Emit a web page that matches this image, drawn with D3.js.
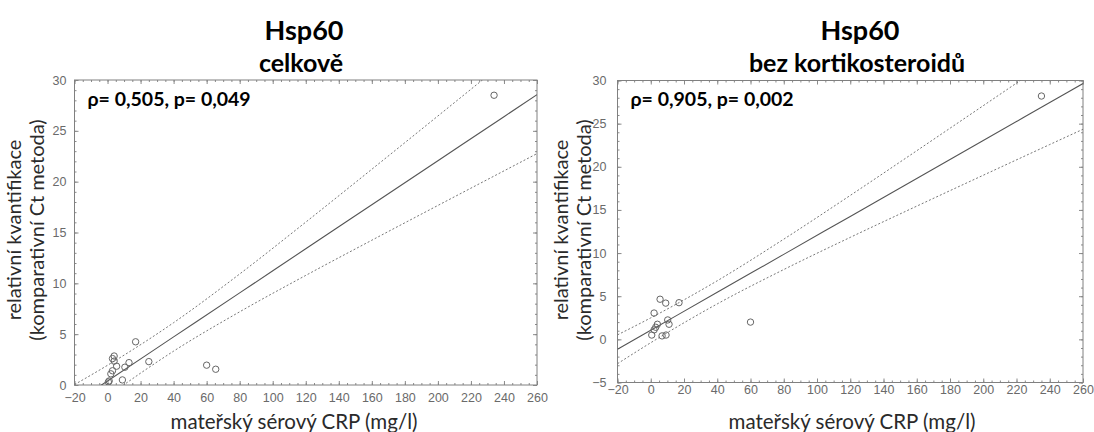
<!DOCTYPE html>
<html>
<head>
<meta charset="utf-8">
<script src="https://cdn.jsdelivr.net/npm/d3@7"></script>
<style>
    body { margin: 0; background: #fff; }
    svg text { font-family: Lato, "Open Sans", sans-serif; }
    .axis .tick text { font-family: "Liberation Sans", Arial, sans-serif; font-size: 12.5px; fill: #6a6a6a; }
    .axis .tick line { stroke: #8a8a8a; }
    .axis path.domain { display: none; }
</style>
</head>
<body>
<svg id="chart" width="1094" height="432"></svg>
<script>
// tick labels
const xTickValues = [-20, 0, 20, 40, 60, 80, 100, 120, 140, 160, 180, 200, 220, 240, 260];
const yTicksCelkove = [0, 5, 10, 15, 20, 25, 30];
const yTicksBez = [-5, 0, 5, 10, 15, 20, 25, 30];

// celkově: mateřský sérový CRP vs Hsp60
const celkoveCRP   = [234, 17, 4, 3, 4, 5.5, 3, 2, 10.5, 13, 25, 9, 1, 0.5, 60, 65.5];
const celkoveHsp60 = [28.5, 4.25, 2.85, 2.6, 2.35, 1.85, 1.4, 1.1, 1.75, 2.2, 2.3, 0.5, 0.4, 0.3, 1.95, 1.55];

// bez kortikosteroidů
const bezCRP   = [235, 60, 17, 10.2, 11, 9, 5.6, 4, 3, 2, 2, 0.6, 6.8, 9.2];
const bezHsp60 = [28.2, 2.0, 4.25, 2.25, 1.75, 4.2, 4.65, 1.75, 1.4, 3.05, 1.1, 0.5, 0.4, 0.5];

// regression line and confidence band, read at these CRP values
const fitCRP = [-20, 0, 40, 80, 120, 160, 200, 240, 260];
const celkoveFit   = [-1.77, 0.40, 4.73, 9.06, 13.40, 17.73, 22.06, 26.39, 28.56];
const celkoveUpper = [0.04, 1.94, 6.13, 10.92, 16.02, 21.22, 26.46, 31.72, 34.36];
const celkoveLower = [-3.58, -1.14, 3.33, 7.20, 10.78, 14.24, 17.66, 21.06, 22.76];
const bezFit   = [-1.15, 1.05, 5.45, 9.85, 14.25, 18.65, 23.05, 27.45, 29.65];
const bezUpper = [0.52, 2.49, 6.79, 11.61, 16.68, 21.86, 27.08, 32.32, 34.95];
const bezLower = [-2.82, -0.39, 4.11, 8.09, 11.82, 15.44, 19.02, 22.58, 24.35];

const svg = d3.select('#chart');

function drawPanel(o) {
    let x = d3.scaleLinear().domain([-20, 260]).range([o.left, o.right]);
    let y = d3.scaleLinear().domain([o.yTicks[0], o.yTicks[o.yTicks.length - 1]]).range([o.bottom, o.top]);
    let g = svg.append('g');

    g.append('clipPath').attr('id', o.id)
        .append('rect')
        .attr('x', o.left).attr('y', o.top)
        .attr('width', o.right - o.left).attr('height', o.bottom - o.top);

    let xMinor = d3.range(-20, 261, 5);
    let yMinor = d3.range(o.yTicks[0], o.yTicks[o.yTicks.length - 1] + 0.01, 1);

    // minor ticks on all four sides
    g.append('g').attr('class', 'axis').attr('transform', 'translate(0,' + o.bottom + ')')
        .call(d3.axisBottom(x).tickValues(xMinor).tickSize(-2).tickFormat(''));
    g.append('g').attr('class', 'axis').attr('transform', 'translate(0,' + o.top + ')')
        .call(d3.axisTop(x).tickValues(xMinor).tickSize(-2).tickFormat(''));
    g.append('g').attr('class', 'axis').attr('transform', 'translate(' + o.left + ',0)')
        .call(d3.axisLeft(y).tickValues(yMinor).tickSize(-2).tickFormat(''));
    g.append('g').attr('class', 'axis').attr('transform', 'translate(' + o.right + ',0)')
        .call(d3.axisRight(y).tickValues(yMinor).tickSize(-2).tickFormat(''));

    // major ticks + labels
    g.append('g').attr('class', 'axis').attr('transform', 'translate(0,' + o.bottom + ')')
        .call(d3.axisBottom(x).tickValues(xTickValues).tickSizeInner(-4).tickSizeOuter(0).tickPadding(o.xPad));
    g.append('g').attr('class', 'axis').attr('transform', 'translate(0,' + o.top + ')')
        .call(d3.axisTop(x).tickValues(xTickValues).tickSize(-4).tickFormat(''));
    g.append('g').attr('class', 'axis').attr('transform', 'translate(' + o.left + ',0)')
        .call(d3.axisLeft(y).tickValues(o.yTicks).tickSizeInner(-4).tickSizeOuter(0).tickPadding(o.yPad));
    g.append('g').attr('class', 'axis').attr('transform', 'translate(' + o.right + ',0)')
        .call(d3.axisRight(y).tickValues(o.yTicks).tickSize(-4).tickFormat(''));

    g.append('rect')
        .attr('x', o.left).attr('y', o.top)
        .attr('width', o.right - o.left).attr('height', o.bottom - o.top)
        .attr('fill', 'none').attr('stroke', '#808080').attr('stroke-width', 1);

    let plot = g.append('g').attr('clip-path', 'url(#' + o.id + ')');
    let line = d3.line()
        .x(function(d) { return x(d[0]); })
        .y(function(d) { return y(d[1]); })
        .curve(d3.curveMonotoneX);

    [o.upper, o.lower].forEach(function(band) {
        plot.append('path')
            .attr('d', line(d3.zip(fitCRP, band)))
            .attr('fill', 'none').attr('stroke', '#777')
            .attr('stroke-width', 1).attr('stroke-dasharray', '2,2');
    });
    plot.append('path')
        .attr('d', line(d3.zip(fitCRP, o.fit)))
        .attr('fill', 'none').attr('stroke', '#555').attr('stroke-width', 1.1);

    plot.selectAll('circle').data(d3.zip(o.crp, o.hsp)).enter()
        .append('circle')
        .attr('cx', function(d) { return x(d[0]); })
        .attr('cy', function(d) { return y(d[1]); })
        .attr('r', 3.2)
        .attr('fill', 'none').attr('stroke', '#666').attr('stroke-width', 1);

    // texts
    g.append('text').attr('x', o.titleX).attr('y', 40).attr('text-anchor', 'middle')
        .attr('font-size', 27).attr('font-weight', 'bold').attr('fill', '#000').text('Hsp60');
    g.append('text').attr('x', o.titleX - 3).attr('y', 72).attr('text-anchor', 'middle')
        .attr('font-size', 25).attr('font-weight', 'bold').attr('fill', '#000').text(o.subtitle);
    g.append('text').attr('x', o.left + 13).attr('y', 106)
        .attr('font-size', 19.5).attr('font-weight', 'bold').attr('fill', '#000').text(o.note);
    g.append('text').attr('x', o.xTitleX).attr('y', 429).attr('text-anchor', 'middle')
        .attr('font-size', 20.5).attr('fill', '#2a2a2a').text('mateřský sérový CRP (mg/l)');

    let yt = g.append('text').attr('text-anchor', 'middle').attr('font-size', 20).attr('fill', '#2a2a2a')
        .attr('transform', 'translate(' + o.yTitleX + ',' + 230 + ') rotate(-90)');
    yt.append('tspan').attr('x', 0).attr('dy', 0).text('relativní kvantifikace');
    yt.append('tspan').attr('x', 0).attr('dy', 23).text('(komparativní Ct metoda)');
}

drawPanel({
    id: 'clipCelkove', left: 74.5, right: 537, top: 80, bottom: 385,
    yTicks: yTicksCelkove, xPad: 8, yPad: 8,
    crp: celkoveCRP, hsp: celkoveHsp60,
    fit: celkoveFit, upper: celkoveUpper, lower: celkoveLower,
    titleX: 304, subtitle: 'celkově', note: 'ρ= 0,505, p= 0,049',
    xTitleX: 294, yTitleX: 21
});

drawPanel({
    id: 'clipBez', left: 617.5, right: 1083, top: 80.5, bottom: 382.5,
    yTicks: yTicksBez, xPad: 3, yPad: 11,
    crp: bezCRP, hsp: bezHsp60,
    fit: bezFit, upper: bezUpper, lower: bezLower,
    titleX: 860, subtitle: 'bez kortikosteroidů', note: 'ρ= 0,905, p= 0,002',
    xTitleX: 852, yTitleX: 568
});
</script>
</body>
</html>
